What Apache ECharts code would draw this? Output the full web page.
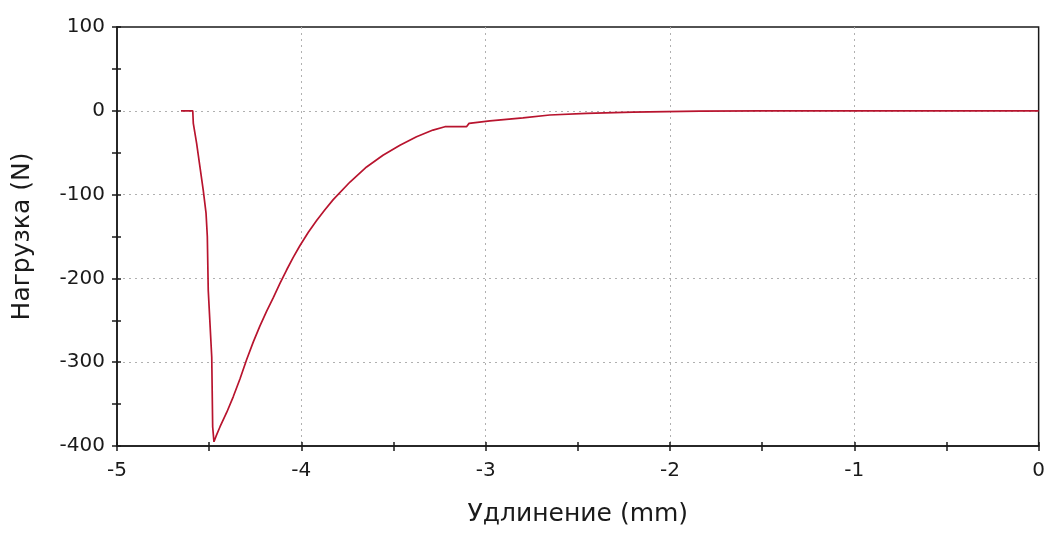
<!DOCTYPE html>
<html>
<head>
<meta charset="utf-8">
<script src="https://cdn.jsdelivr.net/npm/echarts@6/dist/echarts.min.js"></script>
<style>html,body{margin:0;padding:0;background:#fff}#c{width:1048px;height:534px}</style>
</head>
<body>
<div id="c"></div>
<script>
const elongation = [-4.653, -4.589, -4.586, -4.568, -4.550, -4.532, -4.517, -4.510, -4.505, -4.486, -4.481, -4.474, -4.462, -4.441, -4.405, -4.369, -4.333, -4.297, -4.261, -4.225, -4.188, -4.152, -4.116, -4.080, -4.044, -4.008, -3.962, -3.917, -3.872, -3.827, -3.736, -3.646, -3.557, -3.465, -3.375, -3.286, -3.221, -3.104, -3.09, -2.977, -2.798, -2.652, -2.453, -2.202, -1.838, -1.5, 0];
const load = [0, 0, -15, -39, -67, -95, -122, -150, -214, -294, -377, -395, -388, -377, -360, -341, -320, -297, -276, -257, -239, -223, -206, -190, -175, -161, -145, -131, -118, -106, -85, -67, -53, -41, -31, -23, -19, -19, -15, -12, -8.5, -5, -3, -1.5, -0.5, 0, 0];
const xTicks = [-5, -4, -3, -2, -1, 0];
const yTicks = [-400, -300, -200, -100, 0, 100];
const xTitle = 'Удлинение (mm)';
const yTitle = 'Нагрузка (N)';

const font = 'DejaVu Sans, Verdana, sans-serif';
const dark = '#1a1a1a';
const pts = elongation.map((x, i) => [x, load[i]]);

const baseX = {
  type: 'value', min: xTicks[0], max: xTicks[xTicks.length - 1], interval: 1
};
const baseY = {
  type: 'value', min: yTicks[0], max: yTicks[yTicks.length - 1], interval: 100
};
const gridLine = { show: true, showMinLine: false, showMaxLine: false, lineStyle: { color: '#b0b0b0', type: [2, 4], width: 1 } };

const chart = echarts.init(document.getElementById('c'), null, { renderer: 'canvas' });
chart.setOption({
  animation: false,
  backgroundColor: '#fff',
  grid: { left: 117, right: 9, top: 27, bottom: 88, show: true, borderColor: dark, borderWidth: 1.5, backgroundColor: 'transparent' },
  xAxis: [
    Object.assign({}, baseX, {
      position: 'bottom',
      name: xTitle, nameLocation: 'middle', nameGap: 56,
      nameTextStyle: { fontFamily: font, fontSize: 25, color: dark },
      axisLine: { show: true, onZero: false, lineStyle: { color: dark, width: 1.5 } },
      axisTick: { show: true, inside: false, length: 5, lineStyle: { color: dark, width: 1.5 } },
      minorTick: { show: true, splitNumber: 2, length: 5, lineStyle: { color: dark, width: 1.5 } },
      axisLabel: { fontFamily: font, fontSize: 20, color: dark, margin: 15 },
      splitLine: gridLine
    }),
    Object.assign({}, baseX, {
      position: 'bottom',
      axisLine: { show: false, onZero: false },
      axisTick: { show: true, inside: true, length: 4, lineStyle: { color: dark, width: 1.5 } },
      minorTick: { show: true, splitNumber: 2, length: 4, lineStyle: { color: dark, width: 1.5 } },
      axisLabel: { show: false },
      splitLine: { show: false }
    })
  ],
  yAxis: [
    Object.assign({}, baseY, {
      position: 'left',
      name: yTitle, nameLocation: 'middle', nameGap: 82, nameRotate: 90,
      nameTextStyle: { fontFamily: font, fontSize: 25, color: dark },
      axisLine: { show: true, onZero: false, lineStyle: { color: dark, width: 1.5 } },
      axisTick: { show: true, inside: false, length: 5, lineStyle: { color: dark, width: 1.5 } },
      minorTick: { show: true, splitNumber: 2, length: 5, lineStyle: { color: dark, width: 1.5 } },
      axisLabel: { fontFamily: font, fontSize: 20, color: dark, margin: 12 },
      splitLine: gridLine
    }),
    Object.assign({}, baseY, {
      position: 'left',
      axisLine: { show: false, onZero: false },
      axisTick: { show: true, inside: true, length: 4, lineStyle: { color: dark, width: 1.5 } },
      minorTick: { show: true, splitNumber: 2, length: 4, lineStyle: { color: dark, width: 1.5 } },
      axisLabel: { show: false },
      splitLine: { show: false }
    })
  ],
  series: [{
    type: 'line',
    xAxisIndex: 0, yAxisIndex: 0,
    data: pts,
    showSymbol: false,
    smooth: false,
    lineStyle: { color: '#b8142e', width: 1.7 },
    z: 5
  }]
});
</script>
</body>
</html>
